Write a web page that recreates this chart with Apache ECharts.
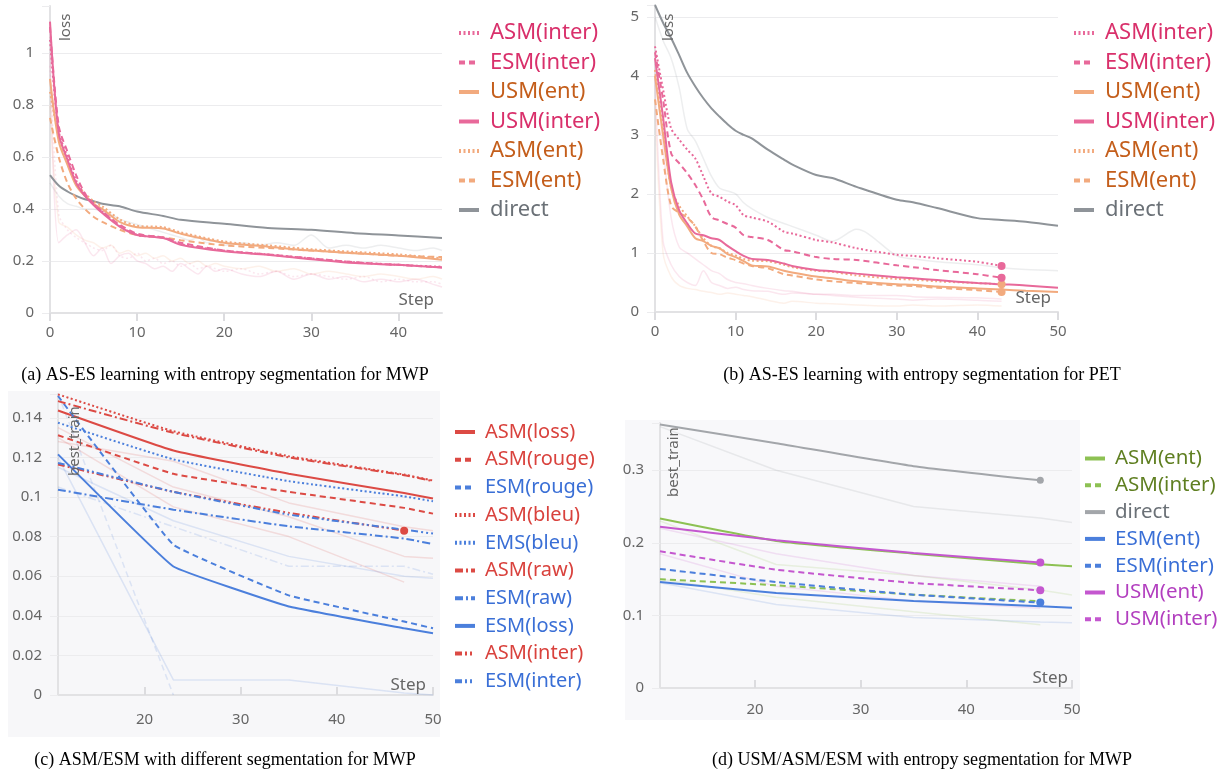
<!DOCTYPE html>
<html>
<head>
<meta charset="utf-8">
<title>AS-ES learning curves</title>
<script src="https://cdn.jsdelivr.net/npm/echarts@6/dist/echarts.min.js"></script>
<style>
  html, body { margin: 0; padding: 0; background: #fff; }
  #myChart { width: 1227px; height: 773px; }
</style>
</head>
<body>
<div id="myChart"></div>
<script>
// ---- (a) AS-ES, entropy segmentation, MWP (loss vs step)
const stepsA = [0, 1, 2, 3, 4, 5, 6, 8, 10, 13, 15, 20, 25, 30, 35, 40, 45];
const aAsmInter = [1.05, 0.70, 0.60, 0.51, 0.455, 0.42, 0.39, 0.335, 0.30, 0.29, 0.265, 0.24, 0.225, 0.21, 0.195, 0.185, 0.178];
const aEsmInter = [1.10, 0.72, 0.62, 0.53, 0.46, 0.42, 0.39, 0.34, 0.305, 0.29, 0.27, 0.24, 0.225, 0.21, 0.195, 0.185, 0.175];
const aUsmEnt = [0.90, 0.66, 0.57, 0.49, 0.45, 0.42, 0.40, 0.35, 0.33, 0.325, 0.305, 0.27, 0.255, 0.24, 0.23, 0.22, 0.205];
const aUsmInter = [1.12, 0.69, 0.59, 0.50, 0.45, 0.415, 0.384, 0.332, 0.30, 0.288, 0.262, 0.237, 0.224, 0.207, 0.192, 0.185, 0.175];
const aAsmEnt = [0.85, 0.68, 0.58, 0.50, 0.46, 0.43, 0.41, 0.36, 0.335, 0.33, 0.31, 0.275, 0.26, 0.245, 0.235, 0.225, 0.21];
const aEsmEnt = [0.75, 0.60, 0.50, 0.44, 0.40, 0.37, 0.35, 0.32, 0.30, 0.29, 0.28, 0.26, 0.25, 0.24, 0.23, 0.22, 0.215];
const aDirect = [0.53, 0.49, 0.467, 0.45, 0.437, 0.43, 0.42, 0.41, 0.39, 0.373, 0.358, 0.343, 0.327, 0.32, 0.307, 0.298, 0.288];
// raw (unsmoothed) runs, drawn faint
const rawStepsA = [0, 1, 2, 3, 4, 5, 6, 7, 8, 9, 10, 11, 12, 13, 14, 15, 16, 17, 18, 19, 20, 22, 24, 26, 28, 30, 32, 34, 36, 38, 40, 42, 44, 45];
const aRaw1 = [1.0, 0.27, 0.30, 0.32, 0.27, 0.22, 0.25, 0.19, 0.22, 0.23, 0.20, 0.19, 0.17, 0.18, 0.16, 0.19, 0.17, 0.15, 0.18, 0.16, 0.17, 0.15, 0.14, 0.16, 0.13, 0.15, 0.13, 0.14, 0.12, 0.13, 0.12, 0.13, 0.11, 0.10];
const aRaw2 = [0.8, 0.35, 0.33, 0.30, 0.28, 0.27, 0.25, 0.26, 0.23, 0.24, 0.22, 0.23, 0.21, 0.22, 0.20, 0.21, 0.19, 0.20, 0.18, 0.19, 0.18, 0.17, 0.18, 0.16, 0.17, 0.15, 0.16, 0.15, 0.14, 0.15, 0.14, 0.13, 0.14, 0.13];
const aRaw3 = [0.95, 0.38, 0.32, 0.29, 0.27, 0.25, 0.24, 0.26, 0.22, 0.21, 0.23, 0.20, 0.21, 0.19, 0.20, 0.18, 0.19, 0.17, 0.18, 0.17, 0.16, 0.17, 0.15, 0.16, 0.14, 0.15, 0.14, 0.13, 0.14, 0.12, 0.13, 0.12, 0.12, 0.11];
const aRaw4 = [0.5, 0.45, 0.42, 0.41, 0.40, 0.40, 0.39, 0.38, 0.36, 0.35, 0.34, 0.33, 0.32, 0.31, 0.30, 0.29, 0.28, 0.29, 0.27, 0.28, 0.26, 0.27, 0.26, 0.27, 0.26, 0.30, 0.25, 0.26, 0.25, 0.26, 0.25, 0.24, 0.25, 0.24];
const xTicksA = [0, 10, 20, 30, 40];
const yTicksA = [0, 0.2, 0.4, 0.6, 0.8, 1];

// ---- (b) AS-ES, entropy segmentation, PET
const stepsB = [0, 1, 2, 3, 4, 5, 6, 7, 8, 9, 10, 11, 12, 14, 16, 17, 20, 22, 25, 30, 32, 35, 40, 43, 46, 50];
const bAsmInter = [4.5, 3.77, 3.11, 2.92, 2.75, 2.6, 2.3, 2.01, 1.95, 1.87, 1.81, 1.64, 1.6, 1.53, 1.36, 1.33, 1.22, 1.18, 1.08, 0.97, 0.95, 0.91, 0.85, 0.78, null, null];
const bEsmInter = [4.4, 3.6, 2.69, 2.52, 2.35, 2.15, 1.9, 1.61, 1.55, 1.49, 1.43, 1.30, 1.27, 1.22, 1.05, 1.03, 0.93, 0.9, 0.88, 0.79, 0.76, 0.71, 0.64, 0.58, null, null];
const bUsmEnt = [4.0, 3.0, 2.1, 1.65, 1.45, 1.25, 1.2, 1.12, 1.08, 0.98, 0.93, 0.86, 0.79, 0.77, 0.7, 0.67, 0.6, 0.57, 0.52, 0.47, 0.46, 0.43, 0.40, 0.38, 0.36, 0.34];
const bUsmInter = [4.3, 3.3, 2.2, 1.72, 1.5, 1.33, 1.3, 1.25, 1.22, 1.12, 1.03, 0.95, 0.9, 0.88, 0.82, 0.78, 0.71, 0.69, 0.65, 0.59, 0.57, 0.54, 0.49, 0.47, 0.45, 0.41];
const bAsmEnt = [4.1, 3.1, 2.1, 1.8, 1.62, 1.45, 1.25, 1.12, 1.08, 1.0, 0.96, 0.9, 0.87, 0.86, 0.8, 0.76, 0.7, 0.68, 0.62, 0.56, 0.55, 0.52, 0.49, 0.47, null, null];
const bEsmEnt = [3.6, 2.6, 1.8, 1.68, 1.6, 1.45, 1.2, 1.0, 0.98, 0.92, 0.88, 0.82, 0.78, 0.74, 0.64, 0.62, 0.55, 0.52, 0.49, 0.45, 0.44, 0.41, 0.37, 0.34, null, null];
const bDirect = [5.2, 4.9, 4.64, 4.35, 4.05, 3.82, 3.62, 3.45, 3.31, 3.18, 3.07, 3.0, 2.94, 2.75, 2.58, 2.5, 2.32, 2.27, 2.12, 1.90, 1.86, 1.76, 1.59, 1.56, 1.53, 1.46];
const bRaw1 = [5.0, 4.6, 4.3, 3.8, 3.1, 2.9, 2.6, 2.3, 2.1, 2.05, 2.0, 1.85, 1.75, 1.6, 1.5, 1.45, 1.3, 1.2, 1.4, 0.95, 0.9, 0.85, 0.8, 0.75, 0.72, 0.7];
const bRaw2 = [4.0, 1.2, 0.8, 0.6, 0.5, 0.45, 0.7, 0.5, 0.45, 0.4, 0.42, 0.38, 0.36, 0.35, 0.3, 0.32, 0.3, 0.28, 0.25, 0.22, 0.2, 0.22, 0.2, 0.18, null, null];
const bRaw3 = [3.5, 1.0, 0.6, 0.45, 0.4, 0.38, 0.35, 0.33, 0.3, 0.32, 0.3, 0.28, 0.26, 0.2, 0.15, 0.18, 0.15, 0.14, 0.12, 0.1, 0.12, 0.1, 0.12, 0.1, null, null];
const bRaw4 = [4.2, 2.8, 1.6, 1.1, 1.0, 0.9, 0.8, 0.7, 0.65, 0.55, 0.5, 0.48, 0.45, 0.4, 0.36, 0.35, 0.3, 0.3, 0.28, 0.28, 0.26, 0.25, 0.24, 0.22, null, null];
const xTicksB = [0, 10, 20, 30, 40, 50];
const yTicksB = [0, 1, 2, 3, 4, 5];

// ---- (c) ASM/ESM, different segmentation, MWP (best_train)
const stepsC = [11, 23, 35, 47, 50];
const cAsmLoss = [0.1437, 0.1235, 0.1117, 0.102, 0.0992];
const cAsmRouge = [0.1312, 0.1117, 0.1026, 0.0945, 0.0916];
const cEsmRouge = [0.151, 0.0759, 0.0503, 0.0371, 0.0337];
const cAsmBleu = [0.1518, 0.1332, 0.1206, 0.1113, 0.1083];
const cEmsBleu = [0.1375, 0.119, 0.108, 0.1003, 0.0978];
const cAsmRaw = [0.1484, 0.1324, 0.120, 0.111, 0.108];
const cEsmRaw = [0.1037, 0.0936, 0.0852, 0.079, 0.0762];
const cEsmLoss = [0.1215, 0.0649, 0.0447, 0.0337, 0.0312];
const cAsmInter = [0.1164, 0.1026, 0.092, 0.083, null];
const cEsmInter = [0.1172, 0.1026, 0.0911, 0.0835, 0.0815];
const cRaw1 = [0.12, 0.0076, 0.0076, 0.001, 0];
const cRaw2 = [0.152, 0, null, null, null];
const cRaw3 = [0.135, 0.105, 0.09, 0.07, 0.069];
const cRaw4 = [0.13, 0.095, 0.08, 0.057, null];
const cRaw5 = [0.115, 0.088, 0.07, 0.06, 0.059];
const cRaw6 = [0.105, 0.085, 0.065, 0.065, 0.061];
const cRaw7 = [0.128, 0.118, 0.097, 0.085, 0.083];
const xTicksC = [20, 30, 40, 50];
const yTicksC = [0, 0.02, 0.04, 0.06, 0.08, 0.1, 0.12, 0.14];

// ---- (d) USM/ASM/ESM, entropy segmentation, MWP (best_train)
const stepsD = [11, 22, 35, 47, 50];
const dAsmEnt = [0.2334, 0.2026, 0.185, 0.1704, 0.1677];
const dAsmInter = [0.1498, 0.1415, 0.1286, 0.1194, null];
const dDirect = [0.363, 0.337, 0.3055, 0.286, null];
const dEsmEnt = [0.146, 0.131, 0.12, 0.1126, 0.1107];
const dEsmInter = [0.164, 0.146, 0.1286, 0.1176, null];
const dUsmEnt = [0.222, 0.2035, 0.186, 0.1727, null];
const dUsmInter = [0.1884, 0.163, 0.1447, 0.1346, null];
const dRaw1 = [0.36, 0.30, 0.25, 0.234, 0.228];
const dRaw2 = [0.23, 0.17, 0.155, 0.135, 0.128];
const dRaw3 = [0.22, 0.185, 0.155, 0.14, null];
const dRaw4 = [0.145, 0.115, 0.097, 0.091, 0.09];
const dRaw5 = [0.15, 0.125, 0.105, 0.087, null];
const dRaw6 = [0.185, 0.14, 0.12, 0.11, null];
const xTicksD = [20, 30, 40, 50];
const yTicksD = [0, 0.1, 0.2, 0.3];

const FONT = "'Noto Sans', 'DejaVu Sans', sans-serif";
const SERIF = "'Liberation Serif', 'DejaVu Serif', serif";

const PINK = "#e8699a", PINK_TXT = "#d9306b";
const ORANGE = "#f2aa7e", ORANGE_TXT = "#c45e1b";
const GRAY = "#8f9499", GRAY_TXT = "#6b7177";
const RED = "#dc4a44", RED_TXT = "#d9423d";
const BLUE = "#4b7fdc", BLUE_TXT = "#3a6fd6";
const GREEN = "#8dc153", GREEN_TXT = "#5f7f21";
const PURPLE = "#c457cf", PURPLE_TXT = "#b23fbf";

const SOLID = "solid";
const DOT = [2, 2.5];
const DASH = [6, 4];
const DASHDOT = [8, 3, 2, 3];
const DASHDOTDOT = [7, 3, 2, 3, 2, 3];

// build [x, y] pairs, optionally put a dot on the last point
function points(xs, ys, dot) {
  let out = [];
  let last = -1;
  ys.forEach((y, i) => {
    if (y != null) last = i;
  });
  for (let i = 0; i < xs.length; i++) {
    if (ys[i] == null) continue;
    if (dot && i == last) {
      out.push({ value: [xs[i], ys[i]], symbol: "circle", symbolSize: dot });
    } else {
      out.push([xs[i], ys[i]]);
    }
  }
  return out;
}

function line(name, idx, xs, ys, color, dash, opts) {
  opts = opts || {};
  return {
    name: name,
    type: "line",
    xAxisIndex: idx,
    yAxisIndex: idx,
    data: points(xs, ys, opts.dot),
    symbol: "none",
    showSymbol: true,
    smooth: opts.smooth == null ? 0.3 : opts.smooth,
    z: opts.faint ? 1 : 3,
    itemStyle: { color: color, opacity: opts.faint ? opts.faint : 1 },
    lineStyle: {
      color: color,
      width: opts.width || 2,
      type: dash,
      opacity: opts.faint ? opts.faint : 1
    },
    emphasis: { disabled: true }
  };
}

function faint(name, idx, xs, ys, color, dash) {
  return line(name, idx, xs, ys, color, dash || SOLID, {
    faint: 0.16,
    width: 1.5,
    smooth: idx < 2 ? 0.3 : 0
  });
}

function xAxisCfg(idx, min, max, ticks, inside, margin) {
  return {
    type: "value",
    gridIndex: idx,
    min: min,
    max: max,
    interval: 10,
    axisLine: { lineStyle: { color: "#e2e2e4", width: 2 } },
    axisTick: {
      customValues: ticks,
      inside: inside,
      length: 8,
      lineStyle: { color: "#dcdcdf", width: 2 }
    },
    axisLabel: {
      customValues: ticks,
      margin: margin,
      color: "#666",
      fontSize: 15,
      fontFamily: FONT
    },
    splitLine: { show: false }
  };
}

function yAxisCfg(idx, max, interval, ticks) {
  return {
    type: "value",
    gridIndex: idx,
    min: 0,
    max: max,
    interval: interval,
    axisLine: { show: true, lineStyle: { color: "#e2e2e4", width: 2 } },
    axisTick: { show: true, length: 8, lineStyle: { color: "#ececee" } },
    axisLabel: {
      customValues: ticks,
      margin: 16,
      color: "#666",
      fontSize: 15,
      fontFamily: FONT
    },
    splitLine: {
      showMaxLine: false,
      lineStyle: { color: "#ececee", width: 1 }
    }
  };
}

function legendCfg(left, top, gap, size, pad, items) {
  return {
    orient: "vertical",
    left: left,
    top: top,
    padding: 0,
    itemWidth: 20,
    itemHeight: 10,
    itemGap: gap,
    selectedMode: false,
    itemStyle: { opacity: 0 },
    lineStyle: { width: 4 },
    textStyle: {
      fontSize: size,
      lineHeight: size,
      fontFamily: FONT,
      padding: [0, 0, 0, pad]
    },
    formatter: name => name.slice(2),
    data: items.map(it => ({ name: it[0], textStyle: { color: it[1] } }))
  };
}

function rotLabel(text, x, y) {
  return {
    type: "text",
    x: x,
    y: y,
    rotation: Math.PI / 2,
    z: 10,
    style: {
      text: text,
      fill: "#666",
      font: "15px " + FONT,
      textAlign: "left",
      textVerticalAlign: "top"
    }
  };
}

function stepLabel(x, y) {
  return {
    type: "text",
    x: x,
    y: y,
    z: 10,
    style: {
      text: "Step",
      fill: "#666",
      font: "17px " + FONT,
      textAlign: "right",
      textVerticalAlign: "middle"
    }
  };
}

function caption(text, x, y) {
  return {
    type: "text",
    x: x,
    y: y,
    style: {
      text: text,
      fill: "#000",
      font: "18px " + SERIF,
      textAlign: "center",
      textVerticalAlign: "middle"
    }
  };
}

const series = [
  // (a)
  faint("a:raw1", 0, rawStepsA, aRaw1, PINK),
  faint("a:raw2", 0, rawStepsA, aRaw2, ORANGE),
  faint("a:raw3", 0, rawStepsA, aRaw3, PINK, DOT),
  faint("a:raw4", 0, rawStepsA, aRaw4, GRAY),
  line("a:direct", 0, stepsA, aDirect, GRAY, SOLID),
  line("a:ESM(ent)", 0, stepsA, aEsmEnt, ORANGE, DASH),
  line("a:ASM(ent)", 0, stepsA, aAsmEnt, ORANGE, DOT),
  line("a:USM(ent)", 0, stepsA, aUsmEnt, ORANGE, SOLID),
  line("a:ASM(inter)", 0, stepsA, aAsmInter, PINK, DOT),
  line("a:ESM(inter)", 0, stepsA, aEsmInter, PINK, DASH),
  line("a:USM(inter)", 0, stepsA, aUsmInter, PINK, SOLID),
  // (b)
  faint("b:raw1", 1, stepsB, bRaw1, GRAY),
  faint("b:raw2", 1, stepsB, bRaw2, PINK),
  faint("b:raw3", 1, stepsB, bRaw3, ORANGE),
  faint("b:raw4", 1, stepsB, bRaw4, PINK),
  line("b:direct", 1, stepsB, bDirect, GRAY, SOLID),
  line("b:ESM(ent)", 1, stepsB, bEsmEnt, ORANGE, DASH, { dot: 8 }),
  line("b:ASM(ent)", 1, stepsB, bAsmEnt, ORANGE, DOT, { dot: 8 }),
  line("b:USM(ent)", 1, stepsB, bUsmEnt, ORANGE, SOLID),
  line("b:ASM(inter)", 1, stepsB, bAsmInter, PINK, DOT, { dot: 8 }),
  line("b:ESM(inter)", 1, stepsB, bEsmInter, PINK, DASH, { dot: 8 }),
  line("b:USM(inter)", 1, stepsB, bUsmInter, PINK, SOLID),
  // (c)
  faint("c:raw1", 2, stepsC, cRaw1, BLUE),
  faint("c:raw2", 2, stepsC, cRaw2, BLUE, DASH),
  faint("c:raw3", 2, stepsC, cRaw3, RED),
  faint("c:raw4", 2, stepsC, cRaw4, RED),
  faint("c:raw5", 2, stepsC, cRaw5, BLUE),
  faint("c:raw6", 2, stepsC, cRaw6, BLUE, DASHDOT),
  faint("c:raw7", 2, stepsC, cRaw7, RED),
  line("c:ASM(loss)", 2, stepsC, cAsmLoss, RED, SOLID, { smooth: 0.12 }),
  line("c:ASM(rouge)", 2, stepsC, cAsmRouge, RED, DASH, { smooth: 0.12 }),
  line("c:ESM(rouge)", 2, stepsC, cEsmRouge, BLUE, DASH, { smooth: 0.08 }),
  line("c:ASM(bleu)", 2, stepsC, cAsmBleu, RED, DOT, { smooth: 0.12 }),
  line("c:EMS(bleu)", 2, stepsC, cEmsBleu, BLUE, DOT, { smooth: 0.12 }),
  line("c:ASM(raw)", 2, stepsC, cAsmRaw, RED, DASHDOT, { smooth: 0.12 }),
  line("c:ESM(raw)", 2, stepsC, cEsmRaw, BLUE, DASHDOT, { smooth: 0.12 }),
  line("c:ESM(loss)", 2, stepsC, cEsmLoss, BLUE, SOLID, { smooth: 0.08 }),
  line("c:ASM(inter)", 2, stepsC, cAsmInter, RED, DASHDOTDOT, { smooth: 0.12, dot: 8 }),
  line("c:ESM(inter)", 2, stepsC, cEsmInter, BLUE, DASHDOTDOT, { smooth: 0.12 }),
  // (d)
  faint("d:raw1", 3, stepsD, dRaw1, GRAY),
  faint("d:raw2", 3, stepsD, dRaw2, GREEN),
  faint("d:raw3", 3, stepsD, dRaw3, PURPLE),
  faint("d:raw4", 3, stepsD, dRaw4, BLUE),
  faint("d:raw5", 3, stepsD, dRaw5, GREEN),
  faint("d:raw6", 3, stepsD, dRaw6, PURPLE),
  line("d:ASM(ent)", 3, stepsD, dAsmEnt, GREEN, SOLID, { smooth: 0.15 }),
  line("d:ASM(inter)", 3, stepsD, dAsmInter, GREEN, DASH, { smooth: 0.15 }),
  line("d:direct", 3, stepsD, dDirect, "#a3a6aa", SOLID, { smooth: 0.15, dot: 7 }),
  line("d:ESM(ent)", 3, stepsD, dEsmEnt, BLUE, SOLID, { smooth: 0.15 }),
  line("d:ESM(inter)", 3, stepsD, dEsmInter, BLUE, DASH, { smooth: 0.15, dot: 8 }),
  line("d:USM(ent)", 3, stepsD, dUsmEnt, PURPLE, SOLID, { smooth: 0.15, dot: 8 }),
  line("d:USM(inter)", 3, stepsD, dUsmInter, PURPLE, DASH, { smooth: 0.15, dot: 8 })
];

const option = {
  animation: false,
  backgroundColor: "#fff",
  grid: [
    { left: 50, top: 6, width: 392, height: 307, outerBoundsMode: "none" },
    { left: 655, top: 5, width: 403, height: 307, outerBoundsMode: "none" },
    { left: 58, top: 394, width: 375, height: 301, outerBoundsMode: "none" },
    { left: 660, top: 423, width: 412, height: 265, outerBoundsMode: "none" }
  ],
  xAxis: [
    xAxisCfg(0, 0, 45, xTicksA, false, 12),
    xAxisCfg(1, 0, 50, xTicksB, false, 12),
    xAxisCfg(2, 11, 50, xTicksC, true, 17),
    xAxisCfg(3, 11, 50, xTicksD, true, 14)
  ],
  yAxis: [
    yAxisCfg(0, 1.18, 0.2, yTicksA),
    yAxisCfg(1, 5.2, 1, yTicksB),
    yAxisCfg(2, 0.152, 0.02, yTicksC),
    yAxisCfg(3, 0.365, 0.1, yTicksD)
  ],
  legend: [
    legendCfg(457, 22, 7.5, 22, 6, [
      ["a:ASM(inter)", PINK_TXT],
      ["a:ESM(inter)", PINK_TXT],
      ["a:USM(ent)", ORANGE_TXT],
      ["a:USM(inter)", PINK_TXT],
      ["a:ASM(ent)", ORANGE_TXT],
      ["a:ESM(ent)", ORANGE_TXT],
      ["a:direct", GRAY_TXT]
    ]),
    legendCfg(1072, 22, 7.5, 22, 6, [
      ["b:ASM(inter)", PINK_TXT],
      ["b:ESM(inter)", PINK_TXT],
      ["b:USM(ent)", ORANGE_TXT],
      ["b:USM(inter)", PINK_TXT],
      ["b:ASM(ent)", ORANGE_TXT],
      ["b:ESM(ent)", ORANGE_TXT],
      ["b:direct", GRAY_TXT]
    ]),
    legendCfg(453, 422, 7.7, 20, 5, [
      ["c:ASM(loss)", RED_TXT],
      ["c:ASM(rouge)", RED_TXT],
      ["c:ESM(rouge)", BLUE_TXT],
      ["c:ASM(bleu)", RED_TXT],
      ["c:EMS(bleu)", BLUE_TXT],
      ["c:ASM(raw)", RED_TXT],
      ["c:ESM(raw)", BLUE_TXT],
      ["c:ESM(loss)", BLUE_TXT],
      ["c:ASM(inter)", RED_TXT],
      ["c:ESM(inter)", BLUE_TXT]
    ]),
    legendCfg(1083, 448, 5.8, 20.5, 5, [
      ["d:ASM(ent)", GREEN_TXT],
      ["d:ASM(inter)", GREEN_TXT],
      ["d:direct", GRAY_TXT],
      ["d:ESM(ent)", BLUE_TXT],
      ["d:ESM(inter)", BLUE_TXT],
      ["d:USM(ent)", PURPLE_TXT],
      ["d:USM(inter)", PURPLE_TXT]
    ])
  ],
  graphic: [
    { type: "rect", z: -10, silent: true, shape: { x: 8, y: 391, width: 432, height: 346 }, style: { fill: "#f7f7f9" } },
    { type: "rect", z: -10, silent: true, shape: { x: 625, y: 420, width: 455, height: 300 }, style: { fill: "#f8f8fa" } },
    rotLabel("loss", 58, 41),
    rotLabel("loss", 661, 41),
    rotLabel("best_train", 67, 476),
    rotLabel("best_train", 666, 497),
    stepLabel(434, 300),
    stepLabel(1051, 298),
    stepLabel(426, 685),
    stepLabel(1068, 678),
    caption("(a) AS-ES learning with entropy segmentation for MWP", 225, 375),
    caption("(b) AS-ES learning with entropy segmentation for PET", 922, 375),
    caption("(c) ASM/ESM with different segmentation for MWP", 225, 760),
    caption("(d) USM/ASM/ESM with entropy segmentation for MWP", 922, 760)
  ],
  series: series
};

let myChart = echarts.init(document.getElementById("myChart"));
myChart.setOption(option);
</script>
</body>
</html>
